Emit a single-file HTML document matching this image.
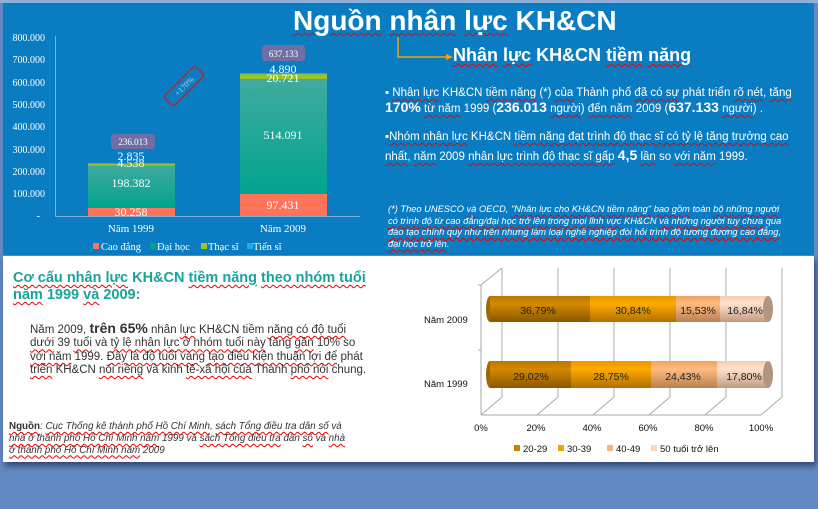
<!DOCTYPE html>
<html><head><meta charset="utf-8"><style>
body{margin:0;width:818px;height:509px;background:#6289c2;overflow:hidden;font-family:"Liberation Sans",sans-serif;position:relative}
.a{position:absolute;white-space:nowrap}
u{text-decoration:underline wavy #e00;text-decoration-thickness:1px;text-underline-offset:2px}
</style></head><body>
<div class="a" style="left:0;top:0;width:818px;height:3px;background:#8fb0da"></div>
<div class="a" style="left:3px;top:3px;width:811px;height:252px;background:#0a7dc2"></div>
<div class="a" style="left:3px;top:256px;width:811px;height:206px;background:#fff;box-shadow:2px 4px 6px rgba(0,0,40,.5)"></div>

<svg class="a" style="left:0;top:0" width="818" height="509" font-family="Liberation Serif,serif">
<g fill="#fff" font-size="10" text-anchor="end">
<text x="45" y="41">800.000</text><text x="45" y="63">700.000</text><text x="45" y="86">600.000</text>
<text x="45" y="108">500.000</text><text x="45" y="130">400.000</text><text x="45" y="153">300.000</text>
<text x="45" y="175">200.000</text><text x="45" y="197">100.000</text><text x="40" y="219">-</text>
</g>
<line x1="55.5" y1="36" x2="55.5" y2="216" stroke="#7fb0d8"/>
<line x1="55" y1="216.5" x2="360" y2="216.5" stroke="#7fb0d8"/>
<defs><linearGradient id="dh" x1="0" y1="0" x2="0" y2="1"><stop offset="0" stop-color="#40aa9e"/><stop offset="1" stop-color="#00a48e"/></linearGradient></defs>
<rect x="88" y="208" width="87" height="8" fill="#ff7359"/>
<rect x="88" y="165" width="87" height="43" fill="url(#dh)"/>
<rect x="88" y="164" width="87" height="1.5" fill="#9dc422"/>
<rect x="88" y="163" width="87" height="1" fill="#14b0e8"/>
<rect x="240" y="194" width="87" height="22" fill="#ff7359"/>
<rect x="240" y="79" width="87" height="115" fill="url(#dh)"/>
<rect x="240" y="74" width="87" height="5" fill="#9dc422"/>
<rect x="240" y="73" width="87" height="1.2" fill="#14b0e8"/>
<g fill="#fff" font-size="12" text-anchor="middle">
<text x="131" y="216">30.258</text><text x="131" y="187">198.382</text>
<text x="131" y="167">4.538</text><text x="131" y="160">2.835</text>
<text x="283" y="209">97.431</text><text x="283" y="139">514.091</text>
<text x="283" y="82">20.721</text><text x="283" y="73">4.890</text>
</g>
<rect x="111" y="134" width="44" height="15" rx="3" fill="#6f6fa6"/>
<text x="133" y="145" fill="#fff" font-size="9" text-anchor="middle">236.013</text>
<rect x="262" y="45" width="43" height="16" rx="3" fill="#6f6fa6"/>
<text x="283.5" y="57" fill="#fff" font-size="9" text-anchor="middle">637.133</text>
<g transform="translate(184,86) rotate(-45)"><rect x="-22" y="-7" width="44" height="14" rx="3" fill="none" stroke="#c0202a" stroke-width="1.3"/><text x="0" y="3" fill="#bcd" font-size="8" text-anchor="middle">+170%</text></g>
<g fill="#fff" font-size="11" text-anchor="middle"><text x="131" y="232">Năm 1999</text><text x="283" y="232">Năm 2009</text></g>
<g font-size="10.5" fill="#fff">
<rect x="93" y="243" width="6" height="6" fill="#ff7359"/><text x="101" y="250">Cao đẳng</text>
<rect x="150" y="243" width="6" height="6" fill="#00a48e"/><text x="157" y="250">Đại học</text>
<rect x="201" y="243" width="6" height="6" fill="#9dc422"/><text x="208" y="250">Thạc sĩ</text>
<rect x="247" y="243" width="6" height="6" fill="#14b0e8"/><text x="253" y="250">Tiến sĩ</text>
</g>
<polyline points="398,37 398,57 447,57" fill="none" stroke="#f5a300" stroke-width="1.5"/>
<polygon points="446,54 453,57 446,60" fill="#f5a300"/>

<g stroke="#aaa" stroke-width="1" fill="none">
<line x1="481" y1="285" x2="481" y2="415"/>
<line x1="481" y1="285" x2="502" y2="268"/>
<line x1="481" y1="415" x2="761" y2="415"/>
<line x1="502" y1="268" x2="502" y2="397"/><line x1="558" y1="268" x2="558" y2="397"/><line x1="614" y1="268" x2="614" y2="397"/><line x1="670" y1="268" x2="670" y2="397"/><line x1="726" y1="268" x2="726" y2="397"/><line x1="782" y1="268" x2="782" y2="397"/>
<line x1="481" y1="415" x2="502" y2="397"/><line x1="537" y1="415" x2="558" y2="397"/><line x1="593" y1="415" x2="614" y2="397"/><line x1="649" y1="415" x2="670" y2="397"/><line x1="705" y1="415" x2="726" y2="397"/><line x1="761" y1="415" x2="782" y2="397"/>
<line x1="478" y1="285" x2="481" y2="285"/><line x1="478" y1="350" x2="481" y2="350"/>
</g>
<defs>
<linearGradient id="g1" x1="0" y1="0" x2="0" y2="1"><stop offset="0" stop-color="#b87500"/><stop offset=".3" stop-color="#d48a00"/><stop offset="1" stop-color="#8a5600"/></linearGradient>
<linearGradient id="g2" x1="0" y1="0" x2="0" y2="1"><stop offset="0" stop-color="#e89800"/><stop offset=".3" stop-color="#ffaa00"/><stop offset="1" stop-color="#b07000"/></linearGradient>
<linearGradient id="g3" x1="0" y1="0" x2="0" y2="1"><stop offset="0" stop-color="#eea464"/><stop offset=".3" stop-color="#ffbb80"/><stop offset="1" stop-color="#b88050"/></linearGradient>
<linearGradient id="g4" x1="0" y1="0" x2="0" y2="1"><stop offset="0" stop-color="#f5ccaa"/><stop offset=".3" stop-color="#ffe2cc"/><stop offset="1" stop-color="#c09a80"/></linearGradient>
</defs>
<g>
<ellipse cx="490" cy="309" rx="4" ry="13" fill="#a06800"/>
<rect x="490" y="296" width="100" height="26" fill="url(#g1)"/>
<rect x="590" y="296" width="86" height="26" fill="url(#g2)"/>
<rect x="676" y="296" width="44" height="26" fill="url(#g3)"/>
<rect x="720" y="296" width="48" height="26" fill="url(#g4)"/>
<ellipse cx="768" cy="309" rx="5" ry="13" fill="#b49480"/>
<ellipse cx="490" cy="374.5" rx="4" ry="13.5" fill="#a06800"/>
<rect x="490" y="361" width="81" height="27" fill="url(#g1)"/>
<rect x="571" y="361" width="80" height="27" fill="url(#g2)"/>
<rect x="651" y="361" width="69" height="27" fill="url(#g3)"/>
<rect x="717" y="361" width="51" height="27" fill="url(#g4)"/>
<ellipse cx="768" cy="374.5" rx="5" ry="13.5" fill="#b49480"/>
</g>
<g font-family="Liberation Sans,sans-serif" font-size="10.5" fill="#222" text-anchor="middle">
<text x="538" y="314">36,79%</text><text x="633" y="314">30,84%</text><text x="698" y="314">15,53%</text><text x="745" y="314">16,84%</text>
<text x="531" y="380">29,02%</text><text x="611" y="380">28,75%</text><text x="683" y="380">24,43%</text><text x="744" y="380">17,80%</text>
</g>
<g font-family="Liberation Sans,sans-serif" font-size="9.5" fill="#111">
<text x="424" y="323">Năm 2009</text><text x="424" y="387">Năm 1999</text>
<g text-anchor="middle"><text x="481" y="431">0%</text><text x="536" y="431">20%</text><text x="592" y="431">40%</text><text x="648" y="431">60%</text><text x="704" y="431">80%</text><text x="761" y="431">100%</text></g>
<rect x="514" y="445" width="6" height="6" fill="#c98200"/><text x="523" y="452">20-29</text>
<rect x="558" y="445" width="6" height="6" fill="#f5a300"/><text x="567" y="452">30-39</text>
<rect x="607" y="445" width="6" height="6" fill="#f7b57a"/><text x="616" y="452">40-49</text>
<rect x="651" y="445" width="6" height="6" fill="#fbd6b8"/><text x="660" y="452">50 tuổi trở lên</text>
</g>
</svg>

<div class="a" style="left:293px;top:5px;font-size:28px;font-weight:bold;color:#fff"><u>Nguồn</u> <u>nhân</u> <u>lực</u> KH&amp;CN</div>
<div class="a" style="left:453px;top:45px;font-size:18px;font-weight:bold;color:#fff"><u>Nhân</u> <u>lực</u> KH&amp;CN <u>tiềm</u> <u>năng</u></div>
<div class="a" style="left:385px;top:86px;width:410px;white-space:normal;font-size:11.5px;color:#fff;line-height:14px">▪ <u>Nhân lực</u> KH&amp;CN <u>tiềm năng</u> (*) <u>của</u> Thành phố <u>đã có sự</u> phát triển <u>rõ nét</u>, <u>tăng</u><br><b style="font-size:14px">170%</b> <u>từ năm</u> 1999 (<b style="font-size:14px">236.013</b> <u>người</u>) <u>đến năm</u> 2009 (<b style="font-size:14px">637.133</b> <u>người</u>) .</div>
<div class="a" style="left:385px;top:128px;width:410px;white-space:normal;font-size:11.5px;color:#fff;line-height:18px">▪<u>Nhóm nhân lực</u> KH&amp;CN <u>tiềm năng đạt trình độ thạc sĩ có tỷ lệ tăng trưởng cao</u><br><u>nhất</u>, <u>năm</u> 2009 <u>nhân lực trình độ thạc sĩ gấp</u> <b style="font-size:14px">4,5</b> <u>lần</u> so <u>với năm</u> 1999.</div>
<div class="a" style="left:388px;top:204px;font-size:9.3px;font-style:italic;color:#fff;line-height:11.5px">(*) Theo UNESCO <u>và</u> OECD, <u>"Nhân lực cho KH&amp;CN tiềm năng"</u> <u>bao gồm</u> toàn <u>bộ những người</u><br><u>có trình độ từ cao đẳng/đại học trở lên trong mọi lĩnh vực</u> KH&amp;CN <u>và những người tuy chưa</u> qua<br><u>đào tạo chính quy như trên nhưng làm loại nghề nghiệp đòi hỏi trình độ tương đương cao đẳng</u>,<br><u>đại học trở lên</u>.</div>

<div class="a" style="left:13px;top:270px;font-size:14.5px;font-weight:bold;color:#1aa39a;line-height:17px"><u>Cơ cấu nhân lực</u> KH&amp;CN <u>tiềm năng</u> <u>theo nhóm tuổi</u><br><u>năm</u> 1999 <u>và</u> 2009:</div>
<div class="a" style="left:30px;top:322px;font-size:11.5px;color:#333;line-height:13.4px">Năm 2009, <b style="font-size:14px">trên 65%</b> nhân <u>lực</u> KH&amp;CN tiềm <u>năng có độ tuổi</u><br><u>dưới</u> 39 <u>tuổi</u> và <u>tỷ lệ nhân lực ở nhóm tuổi này</u> tăng <u>gần</u> 10% so<br><u>với năm</u> 1999. <u>Đây là độ tuổi vàng tạo điều kiện thuận lợi để</u> phát<br><u>triển</u> KH&amp;CN <u>nói riêng</u> và kinh <u>tế-xã hội của</u> Thành <u>phố nói</u> chung.</div>
<div class="a" style="left:9px;top:421px;font-size:9.8px;color:#333;line-height:11.8px;font-style:italic"><b style="font-style:normal"><u>Nguồn</u></b>: <u>Cục Thống kê thành phố Hồ Chí Minh</u>, <u>sách Tổng điều tra dân số</u> và<br><u>nhà ở thành phố Hồ Chí Minh năm</u> 1999 và <u>sách Tổng điều tra</u> dân <u>số</u> và <u>nhà</u><br><u>ở thành phố Hồ Chí Minh năm</u> 2009</div>
</body></html>
